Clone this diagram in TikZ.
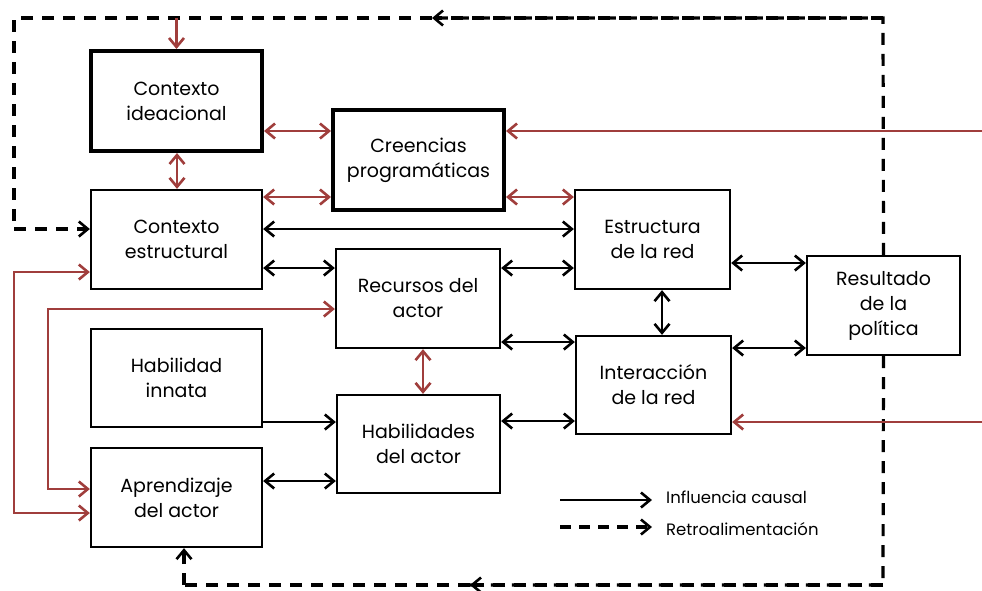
\documentclass[tikz,border=0pt]{standalone}
\usepackage{fontspec}
\setmainfont{Poppins}
\usetikzlibrary{arrows.meta}
\definecolor{rojo}{RGB}{160,62,60}
\tikzset{
  box/.style={draw=black, line width=2.3pt, fill=white, align=center, inner sep=0pt,
    font=\fontsize{19}{25}\selectfont},
  thickbox/.style={box, line width=4pt},
  tip/.tip={Straight Barb[length=9pt,width=15pt,line width=2.6pt]},
  arr/.style={draw=black, line width=2.6pt, arrows={tip-tip}},
  arrone/.style={draw=black, line width=2.6pt, arrows={-tip}},
  rarr/.style={draw=rojo, line width=2.8pt, arrows={tip-tip}},
  rarrone/.style={draw=rojo, line width=2.8pt, arrows={-tip}},
  fb/.style={draw=black, line width=3.2pt, dash pattern=on 12pt off 9pt},
  fbarr/.style={fb, arrows={-tip}},
  legend/.style={font=\fontsize{16.5}{20}\selectfont, anchor=west, inner sep=0pt}
}
\begin{document}
\begin{tikzpicture}[x=1pt,y=-1pt]
\useasboundingbox (0,0) rectangle (982,590);
% boxes
\node[thickbox, minimum width=171, minimum height=100] (ci) at (176.5,101) {Contexto\\ideacional};
\node[thickbox, minimum width=171, minimum height=100] (cp) at (418.5,160) {Creencias\\programáticas};
\node[box, minimum width=171, minimum height=99] (ce) at (176.5,239.5) {Contexto\\estructural};
\node[box, minimum width=155, minimum height=99] (er) at (652.5,239.5) {Estructura\\de la red};
\node[box, minimum width=164, minimum height=99] (ra) at (418,298.5) {Recursos del\\actor};
\node[box, minimum width=153, minimum height=99] (rp) at (883.5,305.5) {Resultado\\de la\\política};
\node[box, minimum width=171, minimum height=98] (hi) at (176.5,378) {Habilidad\\innata};
\node[box, minimum width=155, minimum height=98] (ir) at (653.5,385) {Interacción\\de la red};
\node[box, minimum width=163, minimum height=98] (ha) at (418.5,444) {Habilidades\\del actor};
\node[box, minimum width=171, minimum height=99] (ap) at (176.5,497.5) {Aprendizaje\\del actor};
% coordinates
\coordinate (tr) at (883,18);
\coordinate (tm) at (432,18);
\coordinate (tl) at (14,18);
\coordinate (lm) at (14,229);
\coordinate (br) at (883,585);
\coordinate (bm) at (470,585);
\coordinate (bl) at (184,585);
\coordinate (redtop) at (176.5,18);
\coordinate (redr1) at (982,131);
\coordinate (redr2) at (982,422);
\coordinate (o1) at (14,272);
\coordinate (o2) at (14,513);
\coordinate (i1) at (48,309);
\coordinate (i2) at (48,489);
% feedback loop
\draw[fb] (rp.north) -- (tr) -- (tm);
\draw[fbarr] (tr) -- (tm);
\draw[fb] (tm) -- (tl) -- (lm);
\draw[fbarr] (lm) -- (ce.west |- lm);
\draw[fb] (rp.south) -- (br) -- (bm);
\draw[fbarr] (br) -- (bm);
\draw[fb] (bm) -- (bl);
\draw[fbarr] (bl) -- (ap.south -| bl);
% red connectors
\draw[rarrone] (redtop) -- (ci.north);
\draw[rarr] (ci.south -| 177,0) -- (ce.north -| 177,0);
\draw[rarr] (ci.east |- 0,131) -- (cp.west |- 0,131);
\draw[rarr] (ce.east |- 0,197) -- (cp.west |- 0,197);
\draw[rarr] (cp.east |- 0,197) -- (er.west |- 0,197);
\draw[rarrone] (redr1) -- (cp.east |- redr1);
\draw[rarrone] (redr2) -- (ir.east |- redr2);
\draw[rarr] (ra.south -| 423,0) -- (ha.north -| 423,0);
\draw[rarr] (ce.west |- o1) -- (o1) -- (o2) -- (ap.west |- o2);
\draw[rarr] (ra.west |- i1) -- (i1) -- (i2) -- (ap.west |- i2);
% black connectors
\draw[arr] (ce.east |- 0,229) -- (er.west |- 0,229);
\draw[arr] (ce.east |- 0,268) -- (ra.west |- 0,268);
\draw[arr] (ra.east |- 0,268) -- (er.west |- 0,268);
\draw[arr] (er.east |- 0,263) -- (rp.west |- 0,263);
\draw[arr] (er.south -| 662,0) -- (ir.north -| 662,0);
\draw[arr] (ra.east |- 0,342) -- (ir.west |- 0,342);
\draw[arr] (ir.east |- 0,348) -- (rp.west |- 0,348);
\draw[arr] (ha.east |- 0,421) -- (ir.west |- 0,421);
\draw[arrone] (hi.east |- 0,422) -- (ha.west |- 0,422);
\draw[arr] (ap.east |- 0,481) -- (ha.west |- 0,481);
% legend
\coordinate (l1a) at (560,500);
\coordinate (l1b) at (652,500);
\coordinate (l2a) at (560,527);
\coordinate (l2b) at (652,527);
\draw[arrone] (l1a) -- (l1b);
\draw[fbarr, dash pattern=on 11pt off 8pt] (l2a) -- (l2b);
\node[legend] (lt1) at (666,497) {Influencia causal};
\node[legend] (lt2) at (666,529) {Retroalimentación};
\end{tikzpicture}
\end{document}
